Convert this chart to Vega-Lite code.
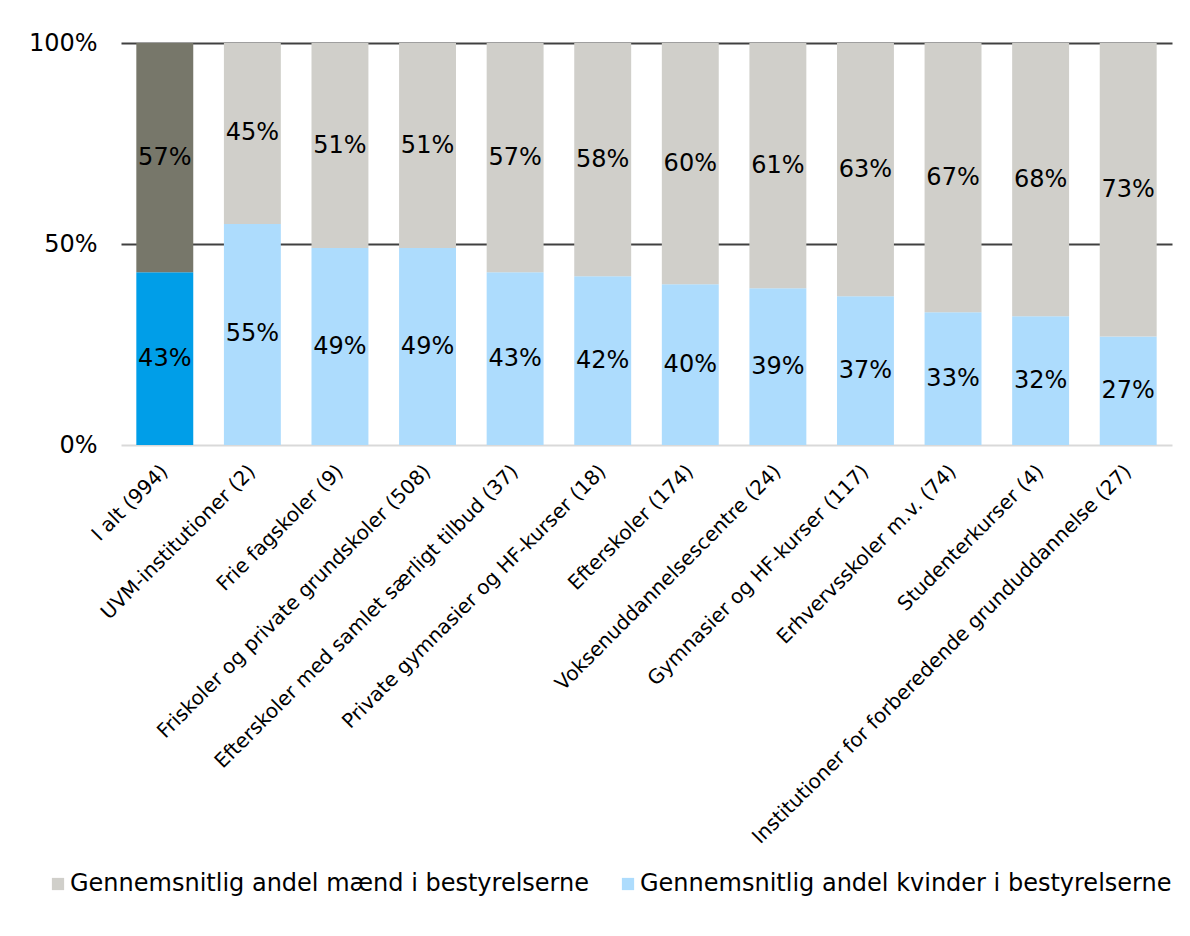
{
  "$schema": "https://vega.github.io/schema/vega-lite/v6.json",
  "autosize": {"type": "none"},
  "width": 1051,
  "height": 402,
  "padding": {"left": 121, "top": 43, "right": 18, "bottom": 491},
  "background": "white",
  "config": {
    "font": "DejaVu Sans",
    "view": {"stroke": null}
  },
  "data": {
    "values": [
      {"kategori": "I alt (994)", "køn": "Kvinder", "gruppe": "I alt – kvinder", "andel": 0.43},
      {"kategori": "I alt (994)", "køn": "Mænd", "gruppe": "I alt – mænd", "andel": 0.57},
      {"kategori": "UVM-institutioner (2)", "køn": "Kvinder", "gruppe": "Gennemsnitlig andel kvinder i bestyrelserne", "andel": 0.55},
      {"kategori": "UVM-institutioner (2)", "køn": "Mænd", "gruppe": "Gennemsnitlig andel mænd i bestyrelserne", "andel": 0.45},
      {"kategori": "Frie fagskoler (9)", "køn": "Kvinder", "gruppe": "Gennemsnitlig andel kvinder i bestyrelserne", "andel": 0.49},
      {"kategori": "Frie fagskoler (9)", "køn": "Mænd", "gruppe": "Gennemsnitlig andel mænd i bestyrelserne", "andel": 0.51},
      {"kategori": "Friskoler og private grundskoler (508)", "køn": "Kvinder", "gruppe": "Gennemsnitlig andel kvinder i bestyrelserne", "andel": 0.49},
      {"kategori": "Friskoler og private grundskoler (508)", "køn": "Mænd", "gruppe": "Gennemsnitlig andel mænd i bestyrelserne", "andel": 0.51},
      {"kategori": "Efterskoler med samlet særligt tilbud (37)", "køn": "Kvinder", "gruppe": "Gennemsnitlig andel kvinder i bestyrelserne", "andel": 0.43},
      {"kategori": "Efterskoler med samlet særligt tilbud (37)", "køn": "Mænd", "gruppe": "Gennemsnitlig andel mænd i bestyrelserne", "andel": 0.57},
      {"kategori": "Private gymnasier og HF-kurser (18)", "køn": "Kvinder", "gruppe": "Gennemsnitlig andel kvinder i bestyrelserne", "andel": 0.42},
      {"kategori": "Private gymnasier og HF-kurser (18)", "køn": "Mænd", "gruppe": "Gennemsnitlig andel mænd i bestyrelserne", "andel": 0.58},
      {"kategori": "Efterskoler (174)", "køn": "Kvinder", "gruppe": "Gennemsnitlig andel kvinder i bestyrelserne", "andel": 0.40},
      {"kategori": "Efterskoler (174)", "køn": "Mænd", "gruppe": "Gennemsnitlig andel mænd i bestyrelserne", "andel": 0.60},
      {"kategori": "Voksenuddannelsescentre (24)", "køn": "Kvinder", "gruppe": "Gennemsnitlig andel kvinder i bestyrelserne", "andel": 0.39},
      {"kategori": "Voksenuddannelsescentre (24)", "køn": "Mænd", "gruppe": "Gennemsnitlig andel mænd i bestyrelserne", "andel": 0.61},
      {"kategori": "Gymnasier og HF-kurser (117)", "køn": "Kvinder", "gruppe": "Gennemsnitlig andel kvinder i bestyrelserne", "andel": 0.37},
      {"kategori": "Gymnasier og HF-kurser (117)", "køn": "Mænd", "gruppe": "Gennemsnitlig andel mænd i bestyrelserne", "andel": 0.63},
      {"kategori": "Erhvervsskoler m.v. (74)", "køn": "Kvinder", "gruppe": "Gennemsnitlig andel kvinder i bestyrelserne", "andel": 0.33},
      {"kategori": "Erhvervsskoler m.v. (74)", "køn": "Mænd", "gruppe": "Gennemsnitlig andel mænd i bestyrelserne", "andel": 0.67},
      {"kategori": "Studenterkurser (4)", "køn": "Kvinder", "gruppe": "Gennemsnitlig andel kvinder i bestyrelserne", "andel": 0.32},
      {"kategori": "Studenterkurser (4)", "køn": "Mænd", "gruppe": "Gennemsnitlig andel mænd i bestyrelserne", "andel": 0.68},
      {"kategori": "Institutioner for forberedende grunduddannelse (27)", "køn": "Kvinder", "gruppe": "Gennemsnitlig andel kvinder i bestyrelserne", "andel": 0.27},
      {"kategori": "Institutioner for forberedende grunduddannelse (27)", "køn": "Mænd", "gruppe": "Gennemsnitlig andel mænd i bestyrelserne", "andel": 0.73}
    ]
  },
  "encoding": {
    "x": {
      "field": "kategori",
      "type": "nominal",
      "sort": null,
      "title": null,
      "scale": {"paddingInner": 0.35, "paddingOuter": 0.175},
      "axis": {
        "labelAngle": -45,
        "labelAlign": "right",
        "labelBaseline": "middle",
        "labelFontSize": 20,
        "labelColor": "#000000",
        "labelPadding": 23,
        "labelLimit": 700,
        "ticks": false,
        "domain": false,
        "grid": false
      }
    },
    "y": {
      "field": "andel",
      "type": "quantitative",
      "stack": "zero",
      "title": null,
      "scale": {"domain": [0, 1], "nice": false},
      "axis": {
        "values": [0, 0.5, 1],
        "format": ".0%",
        "labelFontSize": 24,
        "labelColor": "#000000",
        "labelPadding": 24,
        "ticks": false,
        "domain": false,
        "grid": true,
        "gridColor": {"condition": {"test": "datum.value === 0", "value": "#d9d9d9"}, "value": "#404040"},
        "gridWidth": 2,
        "gridOpacity": 1
      }
    },
    "order": {"field": "køn", "sort": "ascending"}
  },
  "layer": [
    {
      "mark": {"type": "bar"},
      "encoding": {
        "color": {
          "field": "gruppe",
          "type": "nominal",
          "scale": {
            "domain": [
              "Gennemsnitlig andel mænd i bestyrelserne",
              "Gennemsnitlig andel kvinder i bestyrelserne",
              "I alt – mænd",
              "I alt – kvinder"
            ],
            "range": ["#d0cfca", "#addcfd", "#77776a", "#009ee8"]
          },
          "legend": {
            "values": [
              "Gennemsnitlig andel mænd i bestyrelserne",
              "Gennemsnitlig andel kvinder i bestyrelserne"
            ],
            "title": null,
            "orient": "none",
            "direction": "horizontal",
            "columns": 2,
            "legendX": -75,
            "legendY": 829,
            "symbolType": "square",
            "symbolSize": 150,
            "symbolStrokeWidth": 0,
            "labelFontSize": 24,
            "labelColor": "#000000",
            "labelOffset": 0,
            "labelLimit": 700,
            "columnPadding": 26
          }
        }
      }
    },
    {
      "mark": {"type": "text", "fontSize": 24, "color": "#000000"},
      "encoding": {
        "y": {"field": "andel", "type": "quantitative", "stack": "zero", "bandPosition": 0.5},
        "text": {"field": "andel", "type": "quantitative", "format": ".0%"}
      }
    }
  ]
}
